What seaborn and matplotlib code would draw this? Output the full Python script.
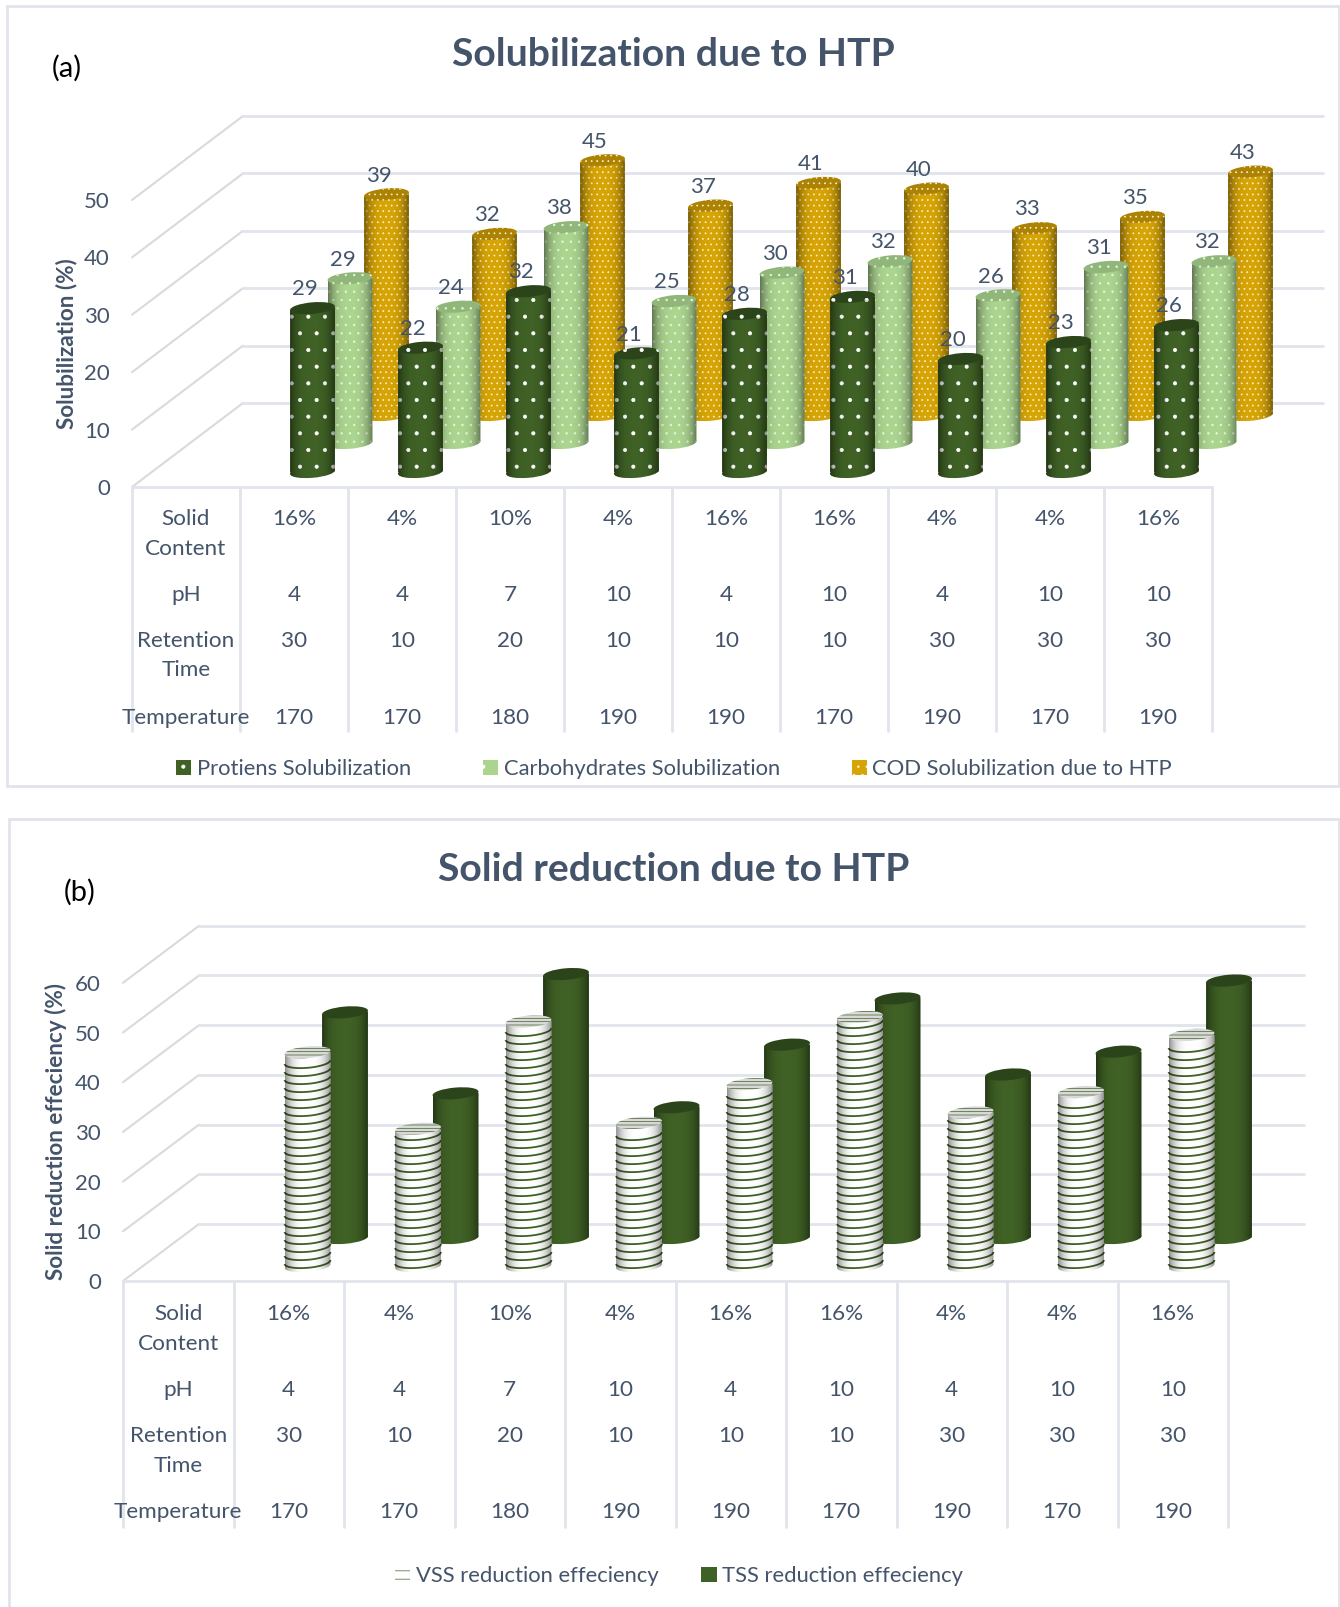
import numpy as np
import pandas as pd
import matplotlib
matplotlib.use('Agg')
import matplotlib.pyplot as plt
import seaborn as sns
from matplotlib.patches import Ellipse, Patch, Polygon, Rectangle
from matplotlib.transforms import IdentityTransform

# Run settings (same for both panels)
solid_content = ['16%', '4%', '10%', '4%', '16%', '16%', '4%', '4%', '16%']
ph = ['4', '4', '7', '10', '4', '10', '4', '10', '10']
retention_time = ['30', '10', '20', '10', '10', '10', '30', '30', '30']
temperature = ['170', '170', '180', '190', '190', '170', '190', '170', '190']

# Panel a values
proteins = [29, 22, 32, 21, 28, 31, 20, 23, 26]
carbohydrates = [29, 24, 38, 25, 30, 32, 26, 31, 32]
cod = [39, 32, 45, 37, 41, 40, 33, 35, 43]

# Panel b values (no labels in the picture)
vss = [43.0, 27.6, 49.2, 28.8, 36.6, 50.1, 30.9, 35.0, 46.5]
tss = [45.4, 29.1, 53.1, 26.3, 38.9, 48.2, 32.9, 37.5, 51.8]

W, H = 1340, 1607
TEXT = '#44546A'
LINE = '#E1E4EB'
DIAG = '#DADADA'

sns.set_theme(style='white')
plt.rcParams['font.family'] = ['Lato', 'DejaVu Sans']
plt.rcParams['hatch.linewidth'] = 0.5

fig = plt.figure(figsize=(W / 100, (H + 0.01) / 100), dpi=100, facecolor='white')


def rect(left, top, w, h):
    return [left / W, 1 - (top + h) / H, w / W, h / H]


def half_ellipse(cx, cy, a, b, angle):
    # lower half of a tilted ellipse, left tip to right tip, in pixels
    t = np.linspace(np.pi, 2 * np.pi, 40)
    ca, sa = np.cos(np.radians(angle)), np.sin(np.radians(angle))
    x = a * np.cos(t)
    y = b * np.sin(t)
    return np.column_stack([cx + x * ca - y * sa, cy + x * sa + y * ca])


def draw_wall(x0, y0, col, unit, top, dx, dy, table_h, rows, ylabel, label_x):
    ax = fig.add_axes(rect(x0, y0 - top * unit, col * 10, top * unit))
    ax.patch.set_alpha(0)
    ax.set_xlim(-1, 9)
    ax.set_ylim(0, top)
    sns.despine(ax=ax, left=True, bottom=True)
    ticks = list(range(0, top + 1, 10))
    ax.set_yticks(ticks)
    ax.set_xticks([])
    ax.tick_params(axis='y', length=0, pad=16, labelsize=16, labelcolor=TEXT)
    ax.set_ylabel(ylabel, fontsize=16.2, fontweight='bold', color=TEXT)
    ax.yaxis.set_label_coords((label_x - x0) / (col * 10), 0.5)

    # back wall and the side lines
    back_x = dx / col
    back_y = dy / unit
    for v in ticks:
        ax.plot([-1, -1 + back_x], [v, v + back_y], color=DIAG, lw=1.5, clip_on=False)
        ax.plot([-1 + back_x, 9 + back_x], [v + back_y] * 2, color=LINE, lw=2, clip_on=False)

    # table under the chart
    ax.plot([-1, 9], [0, 0], color=LINE, lw=2, clip_on=False)
    for i in range(11):
        ax.plot([i - 1, i - 1], [0, -table_h / unit], color=LINE, lw=2, clip_on=False)
    heads = ['Solid', 'Content', 'pH', 'Retention', 'Time', 'Temperature']
    for name, row in zip(heads, rows):
        ax.text(-0.5, -row / unit, name, ha='center', va='center', fontsize=16.2, color=TEXT)
    columns = [(solid_content, rows[0]), (ph, rows[2]), (retention_time, rows[3]), (temperature, rows[5])]
    for texts, row in columns:
        for i, t in enumerate(texts):
            ax.text(i + 0.5, -row / unit, t, ha='center', va='center', fontsize=16.2, color=TEXT)


def draw_cylinders(values, center0, base, col, unit, bar_w, face, top_face, hatch, hatch_color,
                   stripes=False, labels=False, cap_hatch=None):
    low = 6
    ax = fig.add_axes(rect(center0 - col / 2, base - 62 * unit, col * 9, (62 + low) * unit))
    ax.patch.set_alpha(0)
    df = pd.DataFrame({'run': range(len(values)), 'value': values})
    sns.barplot(data=df, x='run', y='value', ax=ax, color=face, saturation=1,
                width=bar_w / col, linewidth=0, errorbar=None)
    ax.set_xlim(-0.5, 8.5)
    ax.set_ylim(-low, 62)
    ax.axis('off')

    a = bar_w / 2
    b = 5.8
    angle = 5
    ca, sa = np.cos(np.radians(angle)), np.sin(np.radians(angle))
    shade = np.zeros((1, 40, 4))
    u = np.linspace(-1, 1, 40)
    shade[0, :, 3] = 0.42 * np.abs(u) ** 3

    for bar, value in zip(ax.containers[0], values):
        xc = bar.get_x() + bar.get_width() / 2
        bx, by = ax.transData.transform((xc, 0))
        tx, ty = ax.transData.transform((xc, value))
        lower = half_ellipse(bx, by, a, b, angle)
        outline = np.vstack([[[tx - a * ca, ty - a * sa]], lower, [[tx + a * ca, ty + a * sa]]])

        body = Polygon(outline, closed=True, transform=IdentityTransform(), fc='none', ec='none')
        ax.add_patch(body)

        bar.set_edgecolor(hatch_color)
        bar.set_hatch(hatch)
        bar.set_clip_path(body)
        bottom = Ellipse((bx, by), a * 2, b * 2, angle=angle, transform=IdentityTransform(),
                         fc=face, ec=hatch_color, lw=0, hatch=hatch, zorder=bar.get_zorder() - 0.5)
        ax.add_patch(bottom)

        # stripes wrap round the cylinder
        if stripes:
            h = by + 4
            while h < ty - 4:
                arc = half_ellipse(bx, h, a, b, angle)
                ax.plot(arc[:, 0], arc[:, 1], color=hatch_color, lw=1.3, transform=IdentityTransform(),
                        zorder=bar.get_zorder() + 0.2, solid_capstyle='butt')
                h += 8

        im = ax.imshow(shade, extent=(xc - bar.get_width() / 2, xc + bar.get_width() / 2, -low, value + 3),
                       aspect='auto', interpolation='bilinear', zorder=bar.get_zorder() + 0.5)
        im.set_clip_path(body)

        cap = Ellipse((tx, ty), a * 2, b * 2, angle=angle, transform=IdentityTransform(),
                      fc=top_face, ec=hatch_color, lw=0, hatch=cap_hatch or hatch, zorder=bar.get_zorder() + 1)
        ax.add_patch(cap)

        if labels:
            ax.annotate(str(value), (xc, value), xytext=(-5.4, 13.5), textcoords='offset points',
                        ha='center', va='center', fontsize=16, color=TEXT, zorder=10)
    ax.set_xlim(-0.5, 8.5)
    ax.set_ylim(-low, 62)


def frame(left, top, w, h):
    fig.add_artist(Rectangle((left / W, 1 - (top + h) / H), w / W, h / H, transform=fig.transFigure,
                             fc='none', ec=LINE, lw=2))


# --- Panel a ---
frame(7, 6, 1332, 780)
fig.text(673 / W, 1 - 54 / H, 'Solubilization due to HTP', ha='center', va='center',
         fontsize=28.2, fontweight='bold', color=TEXT)
fig.text(67 / W, 1 - 68 / H, '(a)', ha='center', va='center', fontsize=21, color='black')
draw_wall(132, 487, 108, 5.74, 50, 111, 84, 244, [32, 62, 108, 154, 183, 231], 'Solubilization (%)', 77)
draw_cylinders(cod, 386.5, 415, 108, 5.66, 45, '#D6A406', '#AC8204', '...', '#FFF3C4', labels=True)
draw_cylinders(carbohydrates, 350, 443, 108, 5.68, 45, '#ABD48F', '#90B67A', '..', '#E8F5DF', labels=True)
draw_cylinders(proteins, 312.5, 472, 108, 5.65, 45, '#3F6125', '#2B441A', '.', '#FFFFFF', labels=True)
fig.legend(handles=[Patch(fc='#3F6125', ec='white', lw=0, hatch='.'),
                    Patch(fc='#ABD48F', ec='white', lw=0, hatch='.'),
                    Patch(fc='#D6A406', ec='#FFF3C4', lw=0, hatch='..')],
           labels=['Protiens Solubilization', 'Carbohydrates Solubilization', 'COD Solubilization due to HTP'],
           ncol=3, loc='center', bbox_to_anchor=(674 / W, 1 - 769 / H), frameon=False,
           fontsize=15.8, labelcolor=TEXT, handlelength=0.7, handleheight=0.7,
           handletextpad=0.25, columnspacing=3.27)

# --- Panel b ---
frame(9, 819, 1330, 800)
fig.text(674 / W, 1 - 869 / H, 'Solid reduction due to HTP', ha='center', va='center',
         fontsize=28.2, fontweight='bold', color=TEXT)
fig.text(80 / W, 1 - 892 / H, '(b)', ha='center', va='center', fontsize=21, color='black')
draw_wall(123, 1281, 110.5, 4.97, 60, 76, 57, 246, [33, 63, 109, 155, 185, 231], 'Solid reduction effeciency (%)', 67)
draw_cylinders(tss, 345, 1238, 110.5, 4.97, 46, '#3F6125', '#2B441A', None, '#3F6125')
draw_cylinders(vss, 307.5, 1266, 110.5, 4.97, 46, '#FFFFFF', '#D9D9D9', None, '#3F6125', stripes=True, cap_hatch='-----')
fig.legend(handles=[Patch(fc='white', ec='#3F6125', lw=0, hatch='--'),
                    Patch(fc='#3F6125', ec='#3F6125', lw=0)],
           labels=['VSS reduction effeciency', 'TSS reduction effeciency'],
           ncol=2, loc='center', bbox_to_anchor=(679 / W, 1 - 1576 / H), frameon=False,
           fontsize=15.8, labelcolor=TEXT, handlelength=0.7, handleheight=0.7,
           handletextpad=0.25, columnspacing=1.96)

fig.savefig('out.png', dpi=100)
